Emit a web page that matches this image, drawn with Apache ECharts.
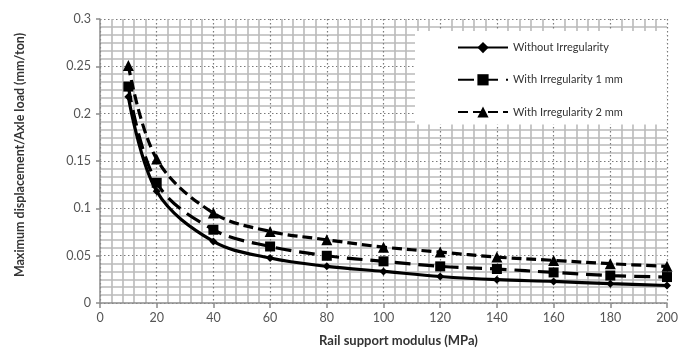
<!DOCTYPE html>
<html><head><meta charset="utf-8">
<script src="https://cdn.jsdelivr.net/npm/echarts@6/dist/echarts.min.js"></script>
<style>html,body{margin:0;padding:0;background:#fff}#c{width:690px;height:352px}</style>
</head><body><div id="c"></div>
<script>
const modulus = [10, 20, 40, 60, 80, 100, 120, 140, 160, 180, 200];
const withoutIrr = [0.218, 0.118, 0.065, 0.0475, 0.0387, 0.0334, 0.028, 0.0246, 0.0228, 0.0204, 0.0185];
const irr1mm = [0.2286, 0.127, 0.0774, 0.0597, 0.0499, 0.044, 0.0387, 0.0359, 0.0323, 0.0290, 0.0274];
const irr2mm = [0.251, 0.152, 0.095, 0.0756, 0.0668, 0.059, 0.0538, 0.0485, 0.045, 0.0415, 0.0387];
const seriesNames = ['Without Irregularity', 'With Irregularity 1 mm', 'With Irregularity 2 mm'];

const pair = arr => modulus.map((x, i) => [x, arr[i]]);
const font = 'Lato, "Liberation Sans", sans-serif';
const chart = echarts.init(document.getElementById('c'), null, {renderer: 'canvas'});
const majorLine = {show: true, lineStyle: {color: '#7a7a7a', width: 1.2, type: [1.5, 2.5]}};
const minorLine = {show: true, lineStyle: {color: '#bababa', width: 1.6}};
chart.setOption({
  animation: false,
  backgroundColor: '#fff',
  textStyle: {fontFamily: font},
  grid: {left: 100, right: 23, top: 19, bottom: 49, containLabel: false},
  legend: {
    orient: 'vertical', left: 415, top: 31,
    backgroundColor: '#fff',
    padding: [11, 44, 7, 42],
    itemGap: 21, itemWidth: 50, itemHeight: 14,
    textStyle: {fontSize: 11, color: '#333', fontFamily: font},
    data: seriesNames
  },
  xAxis: {
    type: 'value', min: 0, max: 200, interval: 20,
    name: 'Rail support modulus (MPa)', nameLocation: 'middle', nameGap: 31,
    nameTextStyle: {fontWeight: 'bold', fontSize: 13, color: '#333', padding: [0, 0, 0, 30]},
    axisLine: {show: true, onZero: false, lineStyle: {color: '#8c8c8c', width: 1.5}},
    axisTick: {show: true, length: 5, lineStyle: {color: '#8c8c8c', width: 1.5}},
    axisLabel: {fontSize: 12.5, color: '#555', margin: 8},
    minorTick: {show: false, splitNumber: 5},
    splitLine: majorLine,
    minorSplitLine: minorLine
  },
  yAxis: {
    type: 'value', min: 0, max: 0.3, interval: 0.05,
    name: 'Maximum displacement/Axle load (mm/ton)', nameLocation: 'middle', nameGap: 74,
    nameTextStyle: {fontWeight: 'bold', fontSize: 12.5, color: '#333', padding: [0, 0, 0, 12]},
    axisLine: {show: true, lineStyle: {color: '#8c8c8c', width: 1.5}},
    axisTick: {show: true, length: 4, lineStyle: {color: '#8c8c8c', width: 1.5}},
    axisLabel: {fontSize: 12.5, color: '#555', margin: 9},
    minorTick: {show: false, splitNumber: 6},
    splitLine: majorLine,
    minorSplitLine: minorLine
  },
  series: [
    {name: seriesNames[0], type: 'line', smooth: 0.35, data: pair(withoutIrr),
     symbol: 'diamond', symbolSize: 8, z: 5,
     lineStyle: {color: '#000', width: 3.2, type: 'solid'}, itemStyle: {color: '#000'}},
    {name: seriesNames[1], type: 'line', smooth: 0.35, data: pair(irr1mm),
     symbol: 'rect', symbolSize: 10, z: 4,
     lineStyle: {color: '#000', width: 3.2, type: [16, 8]}, itemStyle: {color: '#000'}},
    {name: seriesNames[2], type: 'line', smooth: 0.35, data: pair(irr2mm),
     symbol: 'triangle', symbolSize: 11, z: 3,
     lineStyle: {color: '#000', width: 3.2, type: [10, 5]}, itemStyle: {color: '#000'}}
  ]
});
</script></body></html>
